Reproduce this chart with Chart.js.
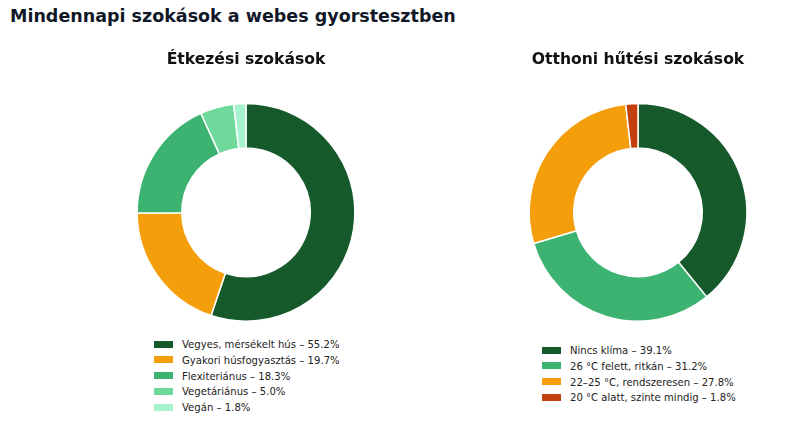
<!DOCTYPE html>
<html lang="hu">
<head>
<meta charset="utf-8">
<title>Mindennapi szokások a webes gyorstesztben</title>
<script src="https://cdn.jsdelivr.net/npm/chart.js@4.4.1/dist/chart.umd.min.js"></script>
<style>
  html, body { margin: 0; padding: 0; background: #fff; }
  body { width: 785px; height: 426px; position: relative; overflow: hidden; font-family: "DejaVu Sans", sans-serif; }
  h1 { position: absolute; left: 10px; top: 6px; margin: 0; font-size: 17.5px; font-weight: bold; color: #111827; }
  .chart-box { position: absolute; top: 40px; width: 290px; height: 282px; }
  #boxFood { left: 101px; }
  #boxCool { left: 493px; }
  .legend { position: absolute; margin: 0; padding: 0; list-style: none; font-size: 10.1px; color: #222; }
  .legend li { height: 15.75px; line-height: 15.75px; white-space: nowrap; }
  .legend .sw { display: inline-block; width: 19px; height: 7px; margin-right: 9px; vertical-align: middle; position: relative; top: -1px; }
  #legFood { left: 154px; top: 337px; }
  #legCool { left: 542px; top: 343px; }
</style>
</head>
<body>
<h1>Mindennapi szokások a webes gyorstesztben</h1>
<div class="chart-box" id="boxFood"><canvas id="chartFood"></canvas></div>
<div class="chart-box" id="boxCool"><canvas id="chartCool"></canvas></div>
<ul class="legend" id="legFood"></ul>
<ul class="legend" id="legCool"></ul>

<script>
// adatok (%)
var foodLabels = ['Vegyes, mérsékelt hús', 'Gyakori húsfogyasztás', 'Flexiteriánus', 'Vegetáriánus', 'Vegán'];
var foodValues = [55.2, 19.7, 18.3, 5.0, 1.8];
var foodColors = ['#165a2c', '#f59e0b', '#3cb371', '#6fd99b', '#a7f3d0'];

var coolLabels = ['Nincs klíma', '26 °C felett, ritkán', '22–25 °C, rendszeresen', '20 °C alatt, szinte mindig'];
var coolValues = [39.1, 31.2, 27.8, 1.8];
var coolColors = ['#165a2c', '#3cb371', '#f59e0b', '#c2410c'];

(function () {
  'use strict';

  Chart.defaults.font.family = '"DejaVu Sans", sans-serif';
  Chart.defaults.animation = false;

  function pct(v) {
    return v.toFixed(1) + '%';
  }

  // ────────── fánk diagram ──────────
  function renderDonut(canvasId, title, labels, values, colors) {
    var canvas = document.getElementById(canvasId);
    return new Chart(canvas, {
      type: 'doughnut',
      data: {
        labels: labels,
        datasets: [{
          data: values,
          backgroundColor: colors,
          borderColor: '#ffffff',
          borderWidth: 1.5
        }]
      },
      options: {
        responsive: true,
        maintainAspectRatio: false,
        cutout: '59%',
        layout: { padding: 0 },
        plugins: {
          title: {
            display: true,
            text: title,
            color: '#111111',
            font: { size: 15.6, weight: 'bold' },
            padding: { top: 11, bottom: 33 }
          },
          legend: { display: false },
          tooltip: {
            callbacks: { label: function (ctx) { return ctx.label + ': ' + pct(ctx.parsed); } }
          }
        }
      }
    });
  }

  // jelmagyarázat: a Chart.js saját legend elemeiből, soronként egy
  function renderLegend(chart, listId) {
    var ul = document.getElementById(listId);
    var items = Chart.overrides.doughnut.plugins.legend.labels.generateLabels(chart);
    var values = chart.data.datasets[0].data;
    items.forEach(function (it, i) {
      var li = document.createElement('li');
      var sw = document.createElement('span');
      sw.className = 'sw';
      sw.style.background = it.fillStyle;
      li.appendChild(sw);
      li.appendChild(document.createTextNode(it.text + ' – ' + pct(values[i])));
      ul.appendChild(li);
    });
  }

  var food = renderDonut('chartFood', 'Étkezési szokások', foodLabels, foodValues, foodColors);
  var cool = renderDonut('chartCool', 'Otthoni hűtési szokások', coolLabels, coolValues, coolColors);
  renderLegend(food, 'legFood');
  renderLegend(cool, 'legCool');
})();
</script>
</body>
</html>
